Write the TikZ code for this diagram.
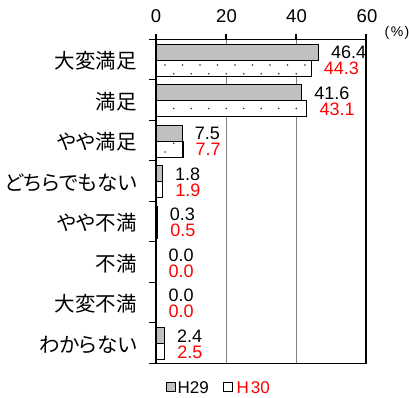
\documentclass[tikz,border=0pt]{standalone}
\usepackage{fontspec}
\setmainfont{Liberation Sans}
\newfontfamily\jp[RawFeature=+palt]{Noto Sans CJK JP}
\definecolor{barg}{HTML}{C0C0C0}
\definecolor{vred}{HTML}{FF0000}
\definecolor{gridc}{HTML}{808080}
\definecolor{dotc}{HTML}{303030}
\tikzset{
  barbox/.style={draw=black, line width=1.1pt},
  catlab/.style={anchor=east, inner sep=0pt, font=\jp\fontsize{20.5}{22}\selectfont},
  vallab/.style={anchor=west, inner sep=0pt, font=\fontsize{18}{19}\selectfont},
  axlab/.style={inner sep=0pt, font=\fontsize{18.5}{19}\selectfont},
  legbox/.style={draw=black, line width=0.9pt, minimum width=9pt, minimum height=9pt, inner sep=0pt},
  legtext/.style={anchor=west, inner sep=0pt, font=\fontsize{17}{18}\selectfont},
}
\begin{document}
\begin{tikzpicture}[x=1pt,y=-1pt]
\useasboundingbox (0,0) rectangle (409,398);
% grid lines
\foreach \g in {226,296} \draw[gridc, line width=0.9pt] (\g,39.3) -- (\g,363.3);
% bars
\foreach \lab/\a/\b [count=\i from 0] in {大変満足/46.4/44.3, 満足/41.6/43.1, やや満足/7.5/7.7, どちらでもない/1.8/1.9, やや不満/0.3/0.5, 不満/0.0/0.0, 大変不満/0.0/0.0, わからない/2.4/2.5}{
  \pgfmathsetmacro\ytop{39.3+40.5*\i}
  \pgfmathsetmacro\ya{\ytop+5}
  \pgfmathsetmacro\yb{\ytop+21}
  \pgfmathsetmacro\yc{\ytop+37}
  \pgfmathsetmacro\xa{156+3.5*\a}
  \pgfmathsetmacro\xb{156+3.5*\b}
  \node[catlab] (cat-\i) at (137,\ytop+21.8) {\lab};
  \ifdim\a pt>0pt
    \filldraw[barbox, fill=barg] (156,\ya) rectangle (\xa,\yb);
  \fi
  \ifdim\b pt>0pt
    \fill[white] (156,\yb) rectangle (\xb,\yc);
    \begin{scope}
      \clip (156,\yb) rectangle (\xb,\yc);
      \pgfmathtruncatemacro\nmin{(\yb-65)/8.7-1}
      \pgfmathtruncatemacro\nmax{\nmin+4}
      \pgfmathtruncatemacro\kmax{(\xb-156)/17.5+1}
      \foreach \n in {\nmin,...,\nmax}{
        \pgfmathsetmacro\yy{65+8.7*\n}
        \pgfmathsetmacro\xo{165+8.75*mod(\n,2)}
        \foreach \k in {-1,...,\kmax}
          \fill[dotc] (\xo+17.5*\k,\yy) circle (0.9);
      }
    \end{scope}
    \draw[barbox] (156,\yb) rectangle (\xb,\yc);
  \fi
  \node[vallab] (v29-\i) at (\xa+12.5,\ytop+13.2) {\a};
  \node[vallab, text=vred] (v30-\i) at (\xb+12.5,\ytop+29.5) {\b};
}
% frame
\draw[black, line width=1.2pt] (156,39.3) rectangle (366,363.3);
\draw[black, line width=1.8pt] (156,34) -- (156,363.3);
% ticks
\foreach \t in {156,226,296,366} \draw[black, line width=1.1pt] (\t,39.3) -- (\t,34);
\foreach \k in {0,...,8} \draw[black, line width=1.1pt] (149,39.3+40.5*\k) -- (156,39.3+40.5*\k);
% axis labels
\node[axlab] (ax0) at (156,16.5) {0};
\node[axlab] (ax20) at (226.5,16.5) {20};
\node[axlab] (ax40) at (296.5,16.5) {40};
\node[axlab] (ax60) at (367,16.5) {60};
\node[inner sep=0pt, font=\fontsize{14}{15}\selectfont] (pct) at (397,33) {(\kern1.5pt\%\kern1.5pt)};
% legend
\node[legbox, fill=barg] (lg29) at (171,386.5) {};
\node[legtext] (lt29) at (177.5,388) {H29};
\node[legbox, fill=white] (lg30) at (228.3,386.5) {};
\node[legtext, text=vred] (lt30) at (236.5,388) {H\kern2pt 30};
\end{tikzpicture}
\end{document}
